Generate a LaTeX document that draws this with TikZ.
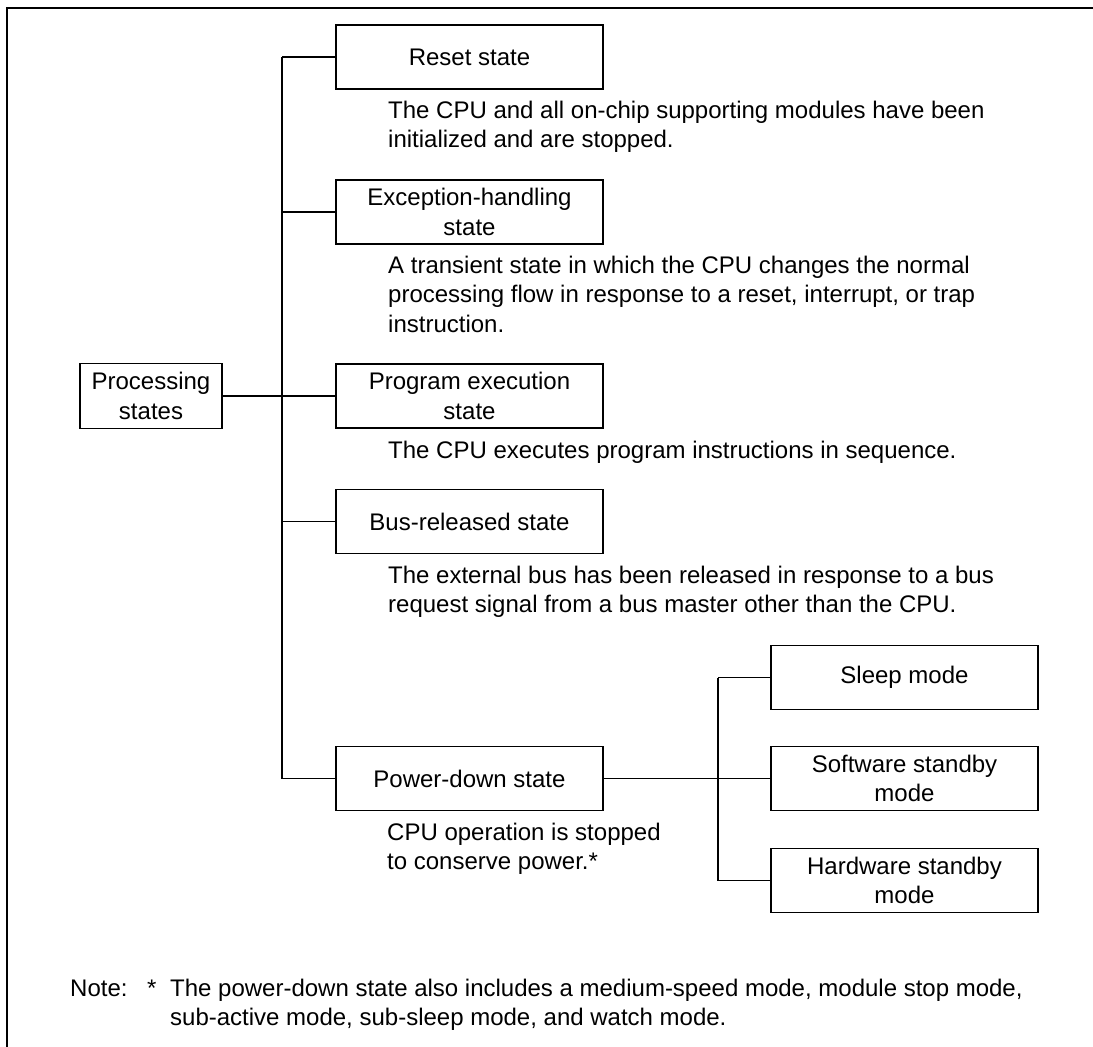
\documentclass[tikz,border=0pt]{standalone}
\usepackage{fontspec}
\setmainfont{Liberation Sans}
\begin{document}
\begin{tikzpicture}[x=1pt,y=-1pt,
  every node/.style={font=\fontsize{24}{29.5}\selectfont},
  statebox/.style={draw, line width=1.6pt, inner sep=0pt, align=center,
    minimum width=267pt, minimum height=64pt},
  procbox/.style={draw, line width=1.6pt, inner sep=0pt, align=center,
    minimum width=142pt, minimum height=65pt},
  link/.style={line width=1.1pt},
  desc/.style={anchor=base west, inner sep=0pt}]
\useasboundingbox (0,0) rectangle (1093,1047);
% frame
\draw[line width=1.3pt] (7,1047) -- (7,8) -- (1093,8);
% nodes
\node[procbox] (proc) at (151,396) {Processing\\states};
\node[statebox] (reset) at (469.5,57) {Reset state};
\node[statebox] (exc) at (469.5,212) {Exception-handling\\state};
\node[statebox] (prog) at (469.5,396) {Program execution\\state};
\node[statebox] (bus) at (469.5,521.5) {Bus-released state};
\node[statebox] (pd) at (469.5,778.5) {Power-down state};
\node[statebox] (sleep) at (904.5,677.5) {Sleep mode};
\node[statebox] (sw) at (904.5,778.5) {Software standby\\mode};
\node[statebox] (hw) at (904.5,880.5) {Hardware standby\\mode};
\coordinate (t) at (282,0);
\coordinate (s) at (718,0);
% descriptions
\node[desc] (dreset) at (388,118) {\parbox[t]{660pt}{\raggedright The CPU and all on-chip supporting modules have been\\initialized and are stopped.}};
\node[desc] (dexc) at (388,273) {\parbox[t]{660pt}{\raggedright A transient state in which the CPU changes the normal\\processing flow in response to a reset, interrupt, or trap\\instruction.}};
\node[desc] (dprog) at (388,458) {The CPU executes program instructions in sequence.};
\node[desc] (dbus) at (388,583) {\parbox[t]{660pt}{\raggedright The external bus has been released in response to a bus\\request signal from a bus master other than the CPU.}};
\node[desc] (dpd) at (387,840) {\parbox[t]{300pt}{\raggedright CPU operation is stopped\\to conserve power.*}};
\node[desc] (note) at (70,996) {Note:};
\node[desc] (star) at (147,996) {*};
\node[desc] (notetext) at (170,996) {\parbox[t]{900pt}{\raggedright The power-down state also includes a medium-speed mode, module stop mode,\\sub-active mode, sub-sleep mode, and watch mode.}};
% connectors
\draw[link] (reset.west -| t) -- (pd.west -| t);
\draw[link] (proc.east) -- (prog.west);
\draw[link] (reset.west) -- (reset.west -| t);
\draw[link] (exc.west) -- (exc.west -| t);
\draw[link] (bus.west) -- (bus.west -| t);
\draw[link] (pd.west) -- (pd.west -| t);
\draw[link] (sleep.west -| s) -- (hw.west -| s);
\draw[link] (pd.east) -- (sw.west);
\draw[link] (sleep.west) -- (sleep.west -| s);
\draw[link] (hw.west) -- (hw.west -| s);
\end{tikzpicture}
\end{document}
